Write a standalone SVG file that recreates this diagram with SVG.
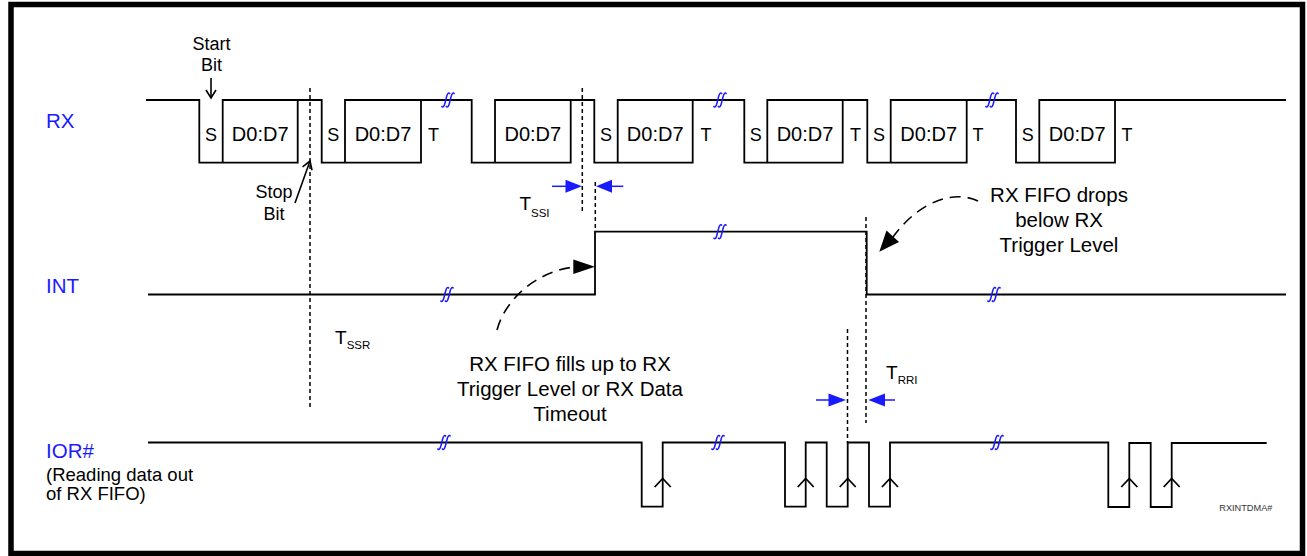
<svg xmlns="http://www.w3.org/2000/svg" width="1307" height="556" viewBox="0 0 1307 556">
<style>
text{font-family:"Liberation Sans",Arial,sans-serif;fill:#000}
.lbl{font-size:20.5px;fill:#1a1aff}
.sm{font-size:18.5px}
.bx{font-size:20px;text-anchor:middle}
.st{font-size:18px;text-anchor:middle}
.note{font-size:20.5px;text-anchor:middle}
.tt{font-size:19px}
.sub{font-size:11.5px}
.w{fill:none;stroke:#000;stroke-width:1.8}
.d{fill:none;stroke:#000;stroke-width:1.5;stroke-dasharray:4,3}
.cd{fill:none;stroke:#000;stroke-width:1.6;stroke-dasharray:11,7}
.ba{fill:none;stroke:#1a1aff;stroke-width:1.5}
.bt{fill:#1a1aff}
.sq{fill:none;stroke:#1a1aff;stroke-width:1.5}
</style>
<defs>
<marker id="open" markerUnits="userSpaceOnUse" markerWidth="20" markerHeight="20" refX="0" refY="0" viewBox="-10 -10 20 20" orient="auto">
<path d="M-8,-5 L0,0 L-8,5" fill="none" stroke="#000" stroke-width="1.6"/>
</marker>
<g id="sq">
<path d="M-6.5,6 Q-4.5,9 -3,3 L-1.5,-3 Q0,-9 2,-6"/>
<path d="M-2,6 Q0,9 1.5,3 L3,-3 Q4.5,-9 6.5,-6"/>
</g>
</defs>
<rect x="11" y="4.5" width="1291.5" height="549" fill="#fff" stroke="#000" stroke-width="5.5"/>

<g id="labels">
<text class="lbl" x="46" y="128">RX</text>
<text class="lbl" x="46" y="293">INT</text>
<text class="lbl" x="46" y="458">IOR#</text>
<text class="sm" x="46" y="480.5">(Reading data out</text>
<text class="sm" x="46" y="500">of RX FIFO)</text>
</g>

<g id="rx">
<path class="w" d="M146,100 H199.3 V162.7 H297.7 V100 H321.7 V162.7 H421 V100 H471.7 V162.7 H570.7 V100 H594.3 V162.7 H692.7 V100 H744.3 V162.7 H842.7 V100 H867.3 V162.7 H966.7 V100 H1016 V162.7 H1115 V100 H1286"/>
<path class="w" d="M222.7,162.7 V100 H297.7 M345,162.7 V100 H421 M495,162.7 V100 H570.7 M617.7,162.7 V100 H692.7 M767.3,162.7 V100 H842.7 M890.7,162.7 V100 H966.7 M1039.3,162.7 V100 H1115"/>
<text class="st" x="211" y="141">S</text>
<text class="st" x="333.3" y="141">S</text>
<text class="st" x="606" y="141">S</text>
<text class="st" x="755.8" y="141">S</text>
<text class="st" x="879" y="141">S</text>
<text class="st" x="1027.7" y="141">S</text>
<text class="bx" x="260.2" y="141">D0:D7</text>
<text class="bx" x="383" y="141">D0:D7</text>
<text class="bx" x="532.8" y="141">D0:D7</text>
<text class="bx" x="655.2" y="141">D0:D7</text>
<text class="bx" x="805" y="141">D0:D7</text>
<text class="bx" x="928.7" y="141">D0:D7</text>
<text class="bx" x="1077.2" y="141">D0:D7</text>
<text class="st" x="433.5" y="141">T</text>
<text class="st" x="706" y="141">T</text>
<text class="st" x="855.5" y="141">T</text>
<text class="st" x="978" y="141">T</text>
<text class="st" x="1127" y="141">T</text>
</g>

<g id="int">
<path class="w" d="M148,294.5 H595 V231.7 H866.7 V294.5 H1286"/>
</g>

<g id="ior">
<path class="w" d="M148,442.5 H641.7 V506.7 H662.7 V442.5 H785 V506.7 H805.7 V442.5 H826.7 V506.7 H847.7 V442.5 H869 V506.7 H890 V442.5 H1108.3 V507 H1129.3 V443 H1150.7 V507 H1171.7 V443 H1266.7"/>
<path class="w" d="M654.7,487 L662.7,478.5 L670.7,487 M797.7,487 L805.7,478.5 L813.7,487 M839.7,487 L847.7,478.5 L855.7,487 M882,487 L890,478.5 L898,487 M1121.3,487 L1129.3,478.5 L1137.3,487 M1163.7,487 L1171.7,478.5 L1179.7,487"/>
<text x="1219.3" y="511" style="font-size:9.2px;fill:#333">RXINTDMA#</text>
</g>

<g id="breaks" class="sq">
<use href="#sq" x="448" y="100"/>
<use href="#sq" x="720" y="100"/>
<use href="#sq" x="992" y="100"/>
<use href="#sq" x="447" y="294.5"/>
<use href="#sq" x="720" y="231.7"/>
<use href="#sq" x="994" y="294.5"/>
<use href="#sq" x="444" y="442.5"/>
<use href="#sq" x="718" y="442.5"/>
<use href="#sq" x="997" y="442.5"/>
</g>

<g id="start-bit">
<text class="st" x="211.5" y="50">Start</text>
<text class="st" x="211.5" y="70.5">Bit</text>
<line x1="211" y1="78" x2="211" y2="98" stroke="#000" stroke-width="1.6" marker-end="url(#open)"/>
</g>

<g id="stop-bit">
<text class="st" x="274" y="198">Stop</text>
<text class="st" x="274" y="220">Bit</text>
<line x1="295" y1="203" x2="310" y2="161" stroke="#000" stroke-width="1.6" marker-end="url(#open)"/>
</g>

<g id="connectors">
<line class="d" x1="310" y1="88" x2="310" y2="410"/>
<line class="d" x1="582.3" y1="88" x2="582.3" y2="213"/>
<line class="d" x1="595.3" y1="182" x2="595.3" y2="231"/>
<line class="d" x1="866" y1="217" x2="866" y2="423"/>
<line class="d" x1="847.5" y1="329" x2="847.5" y2="443"/>
<path class="cd" d="M497,330 C505,300 535,272 574,267"/>
<polygon points="595,266.7 573.3,259.5 573.3,274" fill="#000"/>
<path class="cd" d="M978,201 C955,190 920,200 893,237"/>
<polygon points="879.3,251.7 886.5,230.5 899,242" fill="#000"/>
</g>

<g id="tssi">
<line class="ba" x1="552" y1="186.3" x2="567" y2="186.3"/>
<polygon class="bt" points="582,186.3 565.5,179.8 565.5,192.8"/>
<polygon class="bt" points="596,186.3 612,179.8 612,192.8"/>
<line class="ba" x1="611" y1="186.3" x2="623.3" y2="186.3"/>
<text class="tt" x="519.5" y="210">T</text>
<text class="sub" x="531" y="216.5">SSI</text>
</g>

<g id="tssr">
<text class="tt" x="335" y="343.5">T</text>
<text class="sub" x="346.7" y="348.5">SSR</text>
</g>

<g id="trri">
<line class="ba" x1="816" y1="400" x2="830" y2="400"/>
<polygon class="bt" points="846,400 828.5,393.5 828.5,406.5"/>
<polygon class="bt" points="868.3,400 885,393.5 885,406.5"/>
<line class="ba" x1="884" y1="400" x2="895" y2="400"/>
<text class="tt" x="886" y="378.5">T</text>
<text class="sub" x="897.7" y="383.5">RRI</text>
</g>

<g id="note-fill">
<text class="note" x="570" y="371">RX FIFO fills up to RX</text>
<text class="note" x="570" y="396">Trigger Level or RX Data</text>
<text class="note" x="570" y="421">Timeout</text>
</g>

<g id="note-drop">
<text class="note" x="1059" y="202">RX FIFO drops</text>
<text class="note" x="1059" y="227">below RX</text>
<text class="note" x="1059" y="252">Trigger Level</text>
</g>
</svg>
